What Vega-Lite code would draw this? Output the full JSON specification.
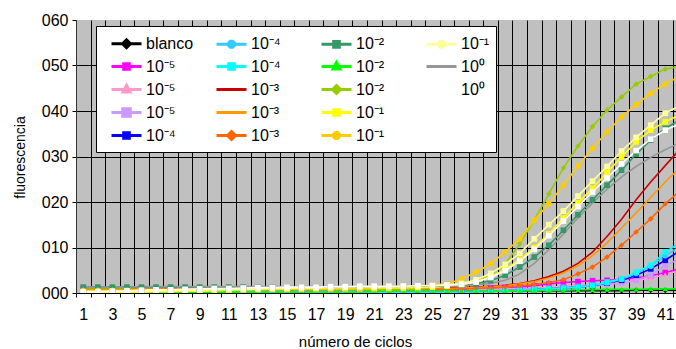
{
"$schema": "https://vega.github.io/schema/vega-lite/v6.json",
"width": 600, "height": 273,
"autosize": {"type": "none"},
"padding": {"left": 76, "top": 20, "right": 0, "bottom": 56},
"background": "white",
"config": {
  "view": {"fill": "#C0C0C0", "stroke": null},
  "font": "Liberation Sans",
  "axis": {"labelFont": "Liberation Sans", "titleFont": "Liberation Sans", "labelColor": "black", "titleColor": "black", "titleFontWeight": "normal", "domainColor": "black", "tickColor": "black", "gridColor": "black", "gridOpacity": 1, "gridWidth": 1, "labelFontSize": 16, "titleFontSize": 14},
  "legend": {"orient": "none", "legendX": 20, "legendY": 6, "columns": 4, "direction": "vertical", "gridAlign": "all", "fillColor": "white", "strokeColor": "black", "padding": 6, "symbolSize": 400, "symbolStrokeWidth": 3, "labelFont": "Liberation Sans", "labelFontSize": 16, "labelColor": "black", "labelOffset": 21, "rowPadding": 1, "columnPadding": 13, "title": null, "symbolType": "stroke"}
},
"data": {"values": [
{"c":1,"s":"bl","v":0.5},{"c":2,"s":"bl","v":0.5},{"c":3,"s":"bl","v":0.4},{"c":4,"s":"bl","v":0.4},{"c":5,"s":"bl","v":0.4},{"c":6,"s":"bl","v":0.4},{"c":7,"s":"bl","v":0.4},{"c":8,"s":"bl","v":0.4},{"c":9,"s":"bl","v":0.4},{"c":10,"s":"bl","v":0.4},{"c":11,"s":"bl","v":0.4},{"c":12,"s":"bl","v":0.4},{"c":13,"s":"bl","v":0.4},{"c":14,"s":"bl","v":0.4},{"c":15,"s":"bl","v":0.4},{"c":16,"s":"bl","v":0.4},{"c":17,"s":"bl","v":0.4},{"c":18,"s":"bl","v":0.4},{"c":19,"s":"bl","v":0.4},{"c":20,"s":"bl","v":0.4},{"c":21,"s":"bl","v":0.4},{"c":22,"s":"bl","v":0.4},{"c":23,"s":"bl","v":0.4},{"c":24,"s":"bl","v":0.4},{"c":25,"s":"bl","v":0.4},{"c":26,"s":"bl","v":0.4},{"c":27,"s":"bl","v":0.4},{"c":28,"s":"bl","v":0.4},{"c":29,"s":"bl","v":0.4},{"c":30,"s":"bl","v":0.5},{"c":31,"s":"bl","v":0.5},{"c":32,"s":"bl","v":0.5},{"c":33,"s":"bl","v":0.5},{"c":34,"s":"bl","v":0.5},{"c":35,"s":"bl","v":0.5},{"c":36,"s":"bl","v":0.5},{"c":37,"s":"bl","v":0.5},{"c":38,"s":"bl","v":0.5},{"c":39,"s":"bl","v":0.6},{"c":40,"s":"bl","v":0.6},{"c":41,"s":"bl","v":0.6},{"c":42,"s":"bl","v":0.6},
{"c":1,"s":"m5a","v":1.0},{"c":2,"s":"m5a","v":0.9},{"c":3,"s":"m5a","v":0.8},{"c":4,"s":"m5a","v":0.8},{"c":5,"s":"m5a","v":0.8},{"c":6,"s":"m5a","v":0.8},{"c":7,"s":"m5a","v":0.8},{"c":8,"s":"m5a","v":0.8},{"c":9,"s":"m5a","v":0.8},{"c":10,"s":"m5a","v":0.8},{"c":11,"s":"m5a","v":0.8},{"c":12,"s":"m5a","v":0.8},{"c":13,"s":"m5a","v":0.8},{"c":14,"s":"m5a","v":0.8},{"c":15,"s":"m5a","v":0.8},{"c":16,"s":"m5a","v":0.8},{"c":17,"s":"m5a","v":0.8},{"c":18,"s":"m5a","v":0.8},{"c":19,"s":"m5a","v":0.8},{"c":20,"s":"m5a","v":0.8},{"c":21,"s":"m5a","v":0.8},{"c":22,"s":"m5a","v":0.8},{"c":23,"s":"m5a","v":0.8},{"c":24,"s":"m5a","v":0.8},{"c":25,"s":"m5a","v":0.8},{"c":26,"s":"m5a","v":0.9},{"c":27,"s":"m5a","v":0.9},{"c":28,"s":"m5a","v":1.0},{"c":29,"s":"m5a","v":1.1},{"c":30,"s":"m5a","v":1.2},{"c":31,"s":"m5a","v":1.3},{"c":32,"s":"m5a","v":1.6},{"c":33,"s":"m5a","v":2.0},{"c":34,"s":"m5a","v":2.3},{"c":35,"s":"m5a","v":2.5},{"c":36,"s":"m5a","v":2.7},{"c":37,"s":"m5a","v":2.8},{"c":38,"s":"m5a","v":3.0},{"c":39,"s":"m5a","v":3.3},{"c":40,"s":"m5a","v":3.8},{"c":41,"s":"m5a","v":4.5},{"c":42,"s":"m5a","v":5.3},
{"c":1,"s":"m5b","v":0.7},{"c":2,"s":"m5b","v":0.6},{"c":3,"s":"m5b","v":0.6},{"c":4,"s":"m5b","v":0.6},{"c":5,"s":"m5b","v":0.6},{"c":6,"s":"m5b","v":0.6},{"c":7,"s":"m5b","v":0.6},{"c":8,"s":"m5b","v":0.6},{"c":9,"s":"m5b","v":0.6},{"c":10,"s":"m5b","v":0.6},{"c":11,"s":"m5b","v":0.6},{"c":12,"s":"m5b","v":0.6},{"c":13,"s":"m5b","v":0.6},{"c":14,"s":"m5b","v":0.6},{"c":15,"s":"m5b","v":0.6},{"c":16,"s":"m5b","v":0.6},{"c":17,"s":"m5b","v":0.6},{"c":18,"s":"m5b","v":0.6},{"c":19,"s":"m5b","v":0.6},{"c":20,"s":"m5b","v":0.6},{"c":21,"s":"m5b","v":0.6},{"c":22,"s":"m5b","v":0.6},{"c":23,"s":"m5b","v":0.6},{"c":24,"s":"m5b","v":0.6},{"c":25,"s":"m5b","v":0.6},{"c":26,"s":"m5b","v":0.7},{"c":27,"s":"m5b","v":0.7},{"c":28,"s":"m5b","v":0.8},{"c":29,"s":"m5b","v":0.8},{"c":30,"s":"m5b","v":0.9},{"c":31,"s":"m5b","v":1.0},{"c":32,"s":"m5b","v":1.1},{"c":33,"s":"m5b","v":1.3},{"c":34,"s":"m5b","v":1.4},{"c":35,"s":"m5b","v":1.6},{"c":36,"s":"m5b","v":1.8},{"c":37,"s":"m5b","v":2.0},{"c":38,"s":"m5b","v":2.3},{"c":39,"s":"m5b","v":2.7},{"c":40,"s":"m5b","v":3.3},{"c":41,"s":"m5b","v":4.0},{"c":42,"s":"m5b","v":5.0},
{"c":1,"s":"m5c","v":0.5},{"c":2,"s":"m5c","v":0.5},{"c":3,"s":"m5c","v":0.5},{"c":4,"s":"m5c","v":0.5},{"c":5,"s":"m5c","v":0.5},{"c":6,"s":"m5c","v":0.5},{"c":7,"s":"m5c","v":0.5},{"c":8,"s":"m5c","v":0.5},{"c":9,"s":"m5c","v":0.5},{"c":10,"s":"m5c","v":0.5},{"c":11,"s":"m5c","v":0.5},{"c":12,"s":"m5c","v":0.5},{"c":13,"s":"m5c","v":0.5},{"c":14,"s":"m5c","v":0.5},{"c":15,"s":"m5c","v":0.5},{"c":16,"s":"m5c","v":0.5},{"c":17,"s":"m5c","v":0.5},{"c":18,"s":"m5c","v":0.5},{"c":19,"s":"m5c","v":0.5},{"c":20,"s":"m5c","v":0.5},{"c":21,"s":"m5c","v":0.5},{"c":22,"s":"m5c","v":0.5},{"c":23,"s":"m5c","v":0.5},{"c":24,"s":"m5c","v":0.5},{"c":25,"s":"m5c","v":0.5},{"c":26,"s":"m5c","v":0.5},{"c":27,"s":"m5c","v":0.5},{"c":28,"s":"m5c","v":0.6},{"c":29,"s":"m5c","v":0.6},{"c":30,"s":"m5c","v":0.7},{"c":31,"s":"m5c","v":0.8},{"c":32,"s":"m5c","v":0.9},{"c":33,"s":"m5c","v":1.0},{"c":34,"s":"m5c","v":1.2},{"c":35,"s":"m5c","v":1.4},{"c":36,"s":"m5c","v":1.6},{"c":37,"s":"m5c","v":1.9},{"c":38,"s":"m5c","v":2.2},{"c":39,"s":"m5c","v":2.8},{"c":40,"s":"m5c","v":3.9},{"c":41,"s":"m5c","v":6.1},{"c":42,"s":"m5c","v":7.5},
{"c":1,"s":"m4a","v":0.3},{"c":2,"s":"m4a","v":0.3},{"c":3,"s":"m4a","v":0.3},{"c":4,"s":"m4a","v":0.3},{"c":5,"s":"m4a","v":0.3},{"c":6,"s":"m4a","v":0.3},{"c":7,"s":"m4a","v":0.3},{"c":8,"s":"m4a","v":0.3},{"c":9,"s":"m4a","v":0.3},{"c":10,"s":"m4a","v":0.3},{"c":11,"s":"m4a","v":0.3},{"c":12,"s":"m4a","v":0.3},{"c":13,"s":"m4a","v":0.3},{"c":14,"s":"m4a","v":0.3},{"c":15,"s":"m4a","v":0.3},{"c":16,"s":"m4a","v":0.3},{"c":17,"s":"m4a","v":0.3},{"c":18,"s":"m4a","v":0.3},{"c":19,"s":"m4a","v":0.3},{"c":20,"s":"m4a","v":0.3},{"c":21,"s":"m4a","v":0.3},{"c":22,"s":"m4a","v":0.3},{"c":23,"s":"m4a","v":0.3},{"c":24,"s":"m4a","v":0.3},{"c":25,"s":"m4a","v":0.3},{"c":26,"s":"m4a","v":0.3},{"c":27,"s":"m4a","v":0.3},{"c":28,"s":"m4a","v":0.4},{"c":29,"s":"m4a","v":0.4},{"c":30,"s":"m4a","v":0.5},{"c":31,"s":"m4a","v":0.6},{"c":32,"s":"m4a","v":0.7},{"c":33,"s":"m4a","v":0.9},{"c":34,"s":"m4a","v":1.1},{"c":35,"s":"m4a","v":1.3},{"c":36,"s":"m4a","v":1.6},{"c":37,"s":"m4a","v":2.2},{"c":38,"s":"m4a","v":2.8},{"c":39,"s":"m4a","v":3.9},{"c":40,"s":"m4a","v":5.3},{"c":41,"s":"m4a","v":7.2},{"c":42,"s":"m4a","v":9.3},
{"c":1,"s":"m4b","v":0.2},{"c":2,"s":"m4b","v":0.2},{"c":3,"s":"m4b","v":0.2},{"c":4,"s":"m4b","v":0.2},{"c":5,"s":"m4b","v":0.2},{"c":6,"s":"m4b","v":0.2},{"c":7,"s":"m4b","v":0.2},{"c":8,"s":"m4b","v":0.2},{"c":9,"s":"m4b","v":0.2},{"c":10,"s":"m4b","v":0.2},{"c":11,"s":"m4b","v":0.2},{"c":12,"s":"m4b","v":0.2},{"c":13,"s":"m4b","v":0.2},{"c":14,"s":"m4b","v":0.2},{"c":15,"s":"m4b","v":0.2},{"c":16,"s":"m4b","v":0.2},{"c":17,"s":"m4b","v":0.2},{"c":18,"s":"m4b","v":0.2},{"c":19,"s":"m4b","v":0.2},{"c":20,"s":"m4b","v":0.2},{"c":21,"s":"m4b","v":0.2},{"c":22,"s":"m4b","v":0.2},{"c":23,"s":"m4b","v":0.2},{"c":24,"s":"m4b","v":0.2},{"c":25,"s":"m4b","v":0.2},{"c":26,"s":"m4b","v":0.2},{"c":27,"s":"m4b","v":0.2},{"c":28,"s":"m4b","v":0.3},{"c":29,"s":"m4b","v":0.4},{"c":30,"s":"m4b","v":0.5},{"c":31,"s":"m4b","v":0.6},{"c":32,"s":"m4b","v":0.7},{"c":33,"s":"m4b","v":0.9},{"c":34,"s":"m4b","v":1.1},{"c":35,"s":"m4b","v":1.3},{"c":36,"s":"m4b","v":1.6},{"c":37,"s":"m4b","v":2.2},{"c":38,"s":"m4b","v":3.0},{"c":39,"s":"m4b","v":4.3},{"c":40,"s":"m4b","v":5.9},{"c":41,"s":"m4b","v":8.2},{"c":42,"s":"m4b","v":10.2},
{"c":1,"s":"m4c","v":0.2},{"c":2,"s":"m4c","v":0.2},{"c":3,"s":"m4c","v":0.2},{"c":4,"s":"m4c","v":0.2},{"c":5,"s":"m4c","v":0.2},{"c":6,"s":"m4c","v":0.2},{"c":7,"s":"m4c","v":0.2},{"c":8,"s":"m4c","v":0.2},{"c":9,"s":"m4c","v":0.2},{"c":10,"s":"m4c","v":0.2},{"c":11,"s":"m4c","v":0.2},{"c":12,"s":"m4c","v":0.2},{"c":13,"s":"m4c","v":0.2},{"c":14,"s":"m4c","v":0.2},{"c":15,"s":"m4c","v":0.2},{"c":16,"s":"m4c","v":0.2},{"c":17,"s":"m4c","v":0.2},{"c":18,"s":"m4c","v":0.2},{"c":19,"s":"m4c","v":0.2},{"c":20,"s":"m4c","v":0.2},{"c":21,"s":"m4c","v":0.2},{"c":22,"s":"m4c","v":0.2},{"c":23,"s":"m4c","v":0.2},{"c":24,"s":"m4c","v":0.2},{"c":25,"s":"m4c","v":0.2},{"c":26,"s":"m4c","v":0.2},{"c":27,"s":"m4c","v":0.2},{"c":28,"s":"m4c","v":0.3},{"c":29,"s":"m4c","v":0.4},{"c":30,"s":"m4c","v":0.5},{"c":31,"s":"m4c","v":0.6},{"c":32,"s":"m4c","v":0.7},{"c":33,"s":"m4c","v":0.9},{"c":34,"s":"m4c","v":1.1},{"c":35,"s":"m4c","v":1.3},{"c":36,"s":"m4c","v":1.7},{"c":37,"s":"m4c","v":2.4},{"c":38,"s":"m4c","v":3.1},{"c":39,"s":"m4c","v":4.6},{"c":40,"s":"m4c","v":6.1},{"c":41,"s":"m4c","v":9.0},{"c":42,"s":"m4c","v":11.0},
{"c":1,"s":"m3a","v":0.9},{"c":2,"s":"m3a","v":1.0},{"c":3,"s":"m3a","v":1.1},{"c":4,"s":"m3a","v":1.3},{"c":5,"s":"m3a","v":1.3},{"c":6,"s":"m3a","v":1.1},{"c":7,"s":"m3a","v":1.0},{"c":8,"s":"m3a","v":1.0},{"c":9,"s":"m3a","v":1.0},{"c":10,"s":"m3a","v":1.0},{"c":11,"s":"m3a","v":1.0},{"c":12,"s":"m3a","v":1.0},{"c":13,"s":"m3a","v":1.0},{"c":14,"s":"m3a","v":1.0},{"c":15,"s":"m3a","v":1.0},{"c":16,"s":"m3a","v":1.0},{"c":17,"s":"m3a","v":1.0},{"c":18,"s":"m3a","v":1.0},{"c":19,"s":"m3a","v":1.0},{"c":20,"s":"m3a","v":1.0},{"c":21,"s":"m3a","v":1.0},{"c":22,"s":"m3a","v":1.0},{"c":23,"s":"m3a","v":1.0},{"c":24,"s":"m3a","v":1.1},{"c":25,"s":"m3a","v":1.1},{"c":26,"s":"m3a","v":1.1},{"c":27,"s":"m3a","v":1.2},{"c":28,"s":"m3a","v":1.3},{"c":29,"s":"m3a","v":1.5},{"c":30,"s":"m3a","v":1.7},{"c":31,"s":"m3a","v":2.1},{"c":32,"s":"m3a","v":2.7},{"c":33,"s":"m3a","v":3.6},{"c":34,"s":"m3a","v":4.8},{"c":35,"s":"m3a","v":6.5},{"c":36,"s":"m3a","v":9.0},{"c":37,"s":"m3a","v":12.4},{"c":38,"s":"m3a","v":16.2},{"c":39,"s":"m3a","v":20.5},{"c":40,"s":"m3a","v":24.4},{"c":41,"s":"m3a","v":28.0},{"c":42,"s":"m3a","v":31.6},
{"c":1,"s":"m3b","v":0.9},{"c":2,"s":"m3b","v":0.9},{"c":3,"s":"m3b","v":0.9},{"c":4,"s":"m3b","v":0.9},{"c":5,"s":"m3b","v":0.9},{"c":6,"s":"m3b","v":0.9},{"c":7,"s":"m3b","v":0.9},{"c":8,"s":"m3b","v":0.9},{"c":9,"s":"m3b","v":0.9},{"c":10,"s":"m3b","v":0.9},{"c":11,"s":"m3b","v":0.9},{"c":12,"s":"m3b","v":0.9},{"c":13,"s":"m3b","v":0.9},{"c":14,"s":"m3b","v":0.9},{"c":15,"s":"m3b","v":0.9},{"c":16,"s":"m3b","v":0.9},{"c":17,"s":"m3b","v":0.9},{"c":18,"s":"m3b","v":0.9},{"c":19,"s":"m3b","v":0.9},{"c":20,"s":"m3b","v":0.9},{"c":21,"s":"m3b","v":0.9},{"c":22,"s":"m3b","v":0.9},{"c":23,"s":"m3b","v":0.9},{"c":24,"s":"m3b","v":0.9},{"c":25,"s":"m3b","v":0.9},{"c":26,"s":"m3b","v":1.0},{"c":27,"s":"m3b","v":1.1},{"c":28,"s":"m3b","v":1.2},{"c":29,"s":"m3b","v":1.4},{"c":30,"s":"m3b","v":1.6},{"c":31,"s":"m3b","v":2.0},{"c":32,"s":"m3b","v":2.5},{"c":33,"s":"m3b","v":3.3},{"c":34,"s":"m3b","v":4.4},{"c":35,"s":"m3b","v":6.0},{"c":36,"s":"m3b","v":8.2},{"c":37,"s":"m3b","v":11.0},{"c":38,"s":"m3b","v":14.3},{"c":39,"s":"m3b","v":17.6},{"c":40,"s":"m3b","v":21.0},{"c":41,"s":"m3b","v":24.4},{"c":42,"s":"m3b","v":27.5},
{"c":1,"s":"m3c","v":0.8},{"c":2,"s":"m3c","v":0.8},{"c":3,"s":"m3c","v":0.8},{"c":4,"s":"m3c","v":0.8},{"c":5,"s":"m3c","v":0.8},{"c":6,"s":"m3c","v":0.8},{"c":7,"s":"m3c","v":0.8},{"c":8,"s":"m3c","v":0.8},{"c":9,"s":"m3c","v":0.8},{"c":10,"s":"m3c","v":0.8},{"c":11,"s":"m3c","v":0.8},{"c":12,"s":"m3c","v":0.8},{"c":13,"s":"m3c","v":0.8},{"c":14,"s":"m3c","v":0.8},{"c":15,"s":"m3c","v":0.8},{"c":16,"s":"m3c","v":0.8},{"c":17,"s":"m3c","v":0.8},{"c":18,"s":"m3c","v":0.8},{"c":19,"s":"m3c","v":0.8},{"c":20,"s":"m3c","v":0.8},{"c":21,"s":"m3c","v":0.8},{"c":22,"s":"m3c","v":0.8},{"c":23,"s":"m3c","v":0.8},{"c":24,"s":"m3c","v":0.8},{"c":25,"s":"m3c","v":0.8},{"c":26,"s":"m3c","v":0.8},{"c":27,"s":"m3c","v":0.8},{"c":28,"s":"m3c","v":1.0},{"c":29,"s":"m3c","v":1.1},{"c":30,"s":"m3c","v":1.3},{"c":31,"s":"m3c","v":1.6},{"c":32,"s":"m3c","v":1.9},{"c":33,"s":"m3c","v":2.3},{"c":34,"s":"m3c","v":2.9},{"c":35,"s":"m3c","v":4.2},{"c":36,"s":"m3c","v":5.7},{"c":37,"s":"m3c","v":7.9},{"c":38,"s":"m3c","v":10.5},{"c":39,"s":"m3c","v":13.4},{"c":40,"s":"m3c","v":16.3},{"c":41,"s":"m3c","v":19.6},{"c":42,"s":"m3c","v":22.4},
{"c":1,"s":"m2a","v":1.3},{"c":2,"s":"m2a","v":1.3},{"c":3,"s":"m2a","v":1.3},{"c":4,"s":"m2a","v":1.3},{"c":5,"s":"m2a","v":1.3},{"c":6,"s":"m2a","v":1.3},{"c":7,"s":"m2a","v":1.3},{"c":8,"s":"m2a","v":1.3},{"c":9,"s":"m2a","v":1.3},{"c":10,"s":"m2a","v":1.3},{"c":11,"s":"m2a","v":1.3},{"c":12,"s":"m2a","v":1.3},{"c":13,"s":"m2a","v":1.3},{"c":14,"s":"m2a","v":1.3},{"c":15,"s":"m2a","v":1.3},{"c":16,"s":"m2a","v":1.3},{"c":17,"s":"m2a","v":1.3},{"c":18,"s":"m2a","v":1.3},{"c":19,"s":"m2a","v":1.3},{"c":20,"s":"m2a","v":1.3},{"c":21,"s":"m2a","v":1.3},{"c":22,"s":"m2a","v":1.3},{"c":23,"s":"m2a","v":1.3},{"c":24,"s":"m2a","v":1.3},{"c":25,"s":"m2a","v":1.4},{"c":26,"s":"m2a","v":1.5},{"c":27,"s":"m2a","v":1.7},{"c":28,"s":"m2a","v":2.0},{"c":29,"s":"m2a","v":2.7},{"c":30,"s":"m2a","v":3.9},{"c":31,"s":"m2a","v":5.7},{"c":32,"s":"m2a","v":7.9},{"c":33,"s":"m2a","v":10.5},{"c":34,"s":"m2a","v":13.8},{"c":35,"s":"m2a","v":17.2},{"c":36,"s":"m2a","v":20.5},{"c":37,"s":"m2a","v":23.7},{"c":38,"s":"m2a","v":27.0},{"c":39,"s":"m2a","v":30.5},{"c":40,"s":"m2a","v":33.6},{"c":41,"s":"m2a","v":36.2},{"c":42,"s":"m2a","v":38.0},
{"c":1,"s":"m2b","v":0.2},{"c":2,"s":"m2b","v":0.2},{"c":3,"s":"m2b","v":0.2},{"c":4,"s":"m2b","v":0.2},{"c":5,"s":"m2b","v":0.2},{"c":6,"s":"m2b","v":0.2},{"c":7,"s":"m2b","v":0.2},{"c":8,"s":"m2b","v":0.2},{"c":9,"s":"m2b","v":0.2},{"c":10,"s":"m2b","v":0.2},{"c":11,"s":"m2b","v":0.2},{"c":12,"s":"m2b","v":0.2},{"c":13,"s":"m2b","v":0.2},{"c":14,"s":"m2b","v":0.2},{"c":15,"s":"m2b","v":0.2},{"c":16,"s":"m2b","v":0.2},{"c":17,"s":"m2b","v":0.2},{"c":18,"s":"m2b","v":0.2},{"c":19,"s":"m2b","v":0.2},{"c":20,"s":"m2b","v":0.2},{"c":21,"s":"m2b","v":0.4},{"c":22,"s":"m2b","v":0.4},{"c":23,"s":"m2b","v":0.4},{"c":24,"s":"m2b","v":0.4},{"c":25,"s":"m2b","v":0.4},{"c":26,"s":"m2b","v":0.4},{"c":27,"s":"m2b","v":0.4},{"c":28,"s":"m2b","v":0.4},{"c":29,"s":"m2b","v":0.4},{"c":30,"s":"m2b","v":0.4},{"c":31,"s":"m2b","v":0.5},{"c":32,"s":"m2b","v":0.5},{"c":33,"s":"m2b","v":0.6},{"c":34,"s":"m2b","v":0.6},{"c":35,"s":"m2b","v":0.7},{"c":36,"s":"m2b","v":0.7},{"c":37,"s":"m2b","v":0.8},{"c":38,"s":"m2b","v":0.8},{"c":39,"s":"m2b","v":0.8},{"c":40,"s":"m2b","v":0.9},{"c":41,"s":"m2b","v":0.9},{"c":42,"s":"m2b","v":0.9},
{"c":1,"s":"m2c","v":0.7},{"c":2,"s":"m2c","v":0.7},{"c":3,"s":"m2c","v":0.7},{"c":4,"s":"m2c","v":0.7},{"c":5,"s":"m2c","v":0.7},{"c":6,"s":"m2c","v":0.7},{"c":7,"s":"m2c","v":0.7},{"c":8,"s":"m2c","v":0.7},{"c":9,"s":"m2c","v":0.7},{"c":10,"s":"m2c","v":0.7},{"c":11,"s":"m2c","v":0.7},{"c":12,"s":"m2c","v":0.7},{"c":13,"s":"m2c","v":0.7},{"c":14,"s":"m2c","v":0.7},{"c":15,"s":"m2c","v":0.7},{"c":16,"s":"m2c","v":0.7},{"c":17,"s":"m2c","v":0.7},{"c":18,"s":"m2c","v":0.7},{"c":19,"s":"m2c","v":0.7},{"c":20,"s":"m2c","v":0.7},{"c":21,"s":"m2c","v":0.7},{"c":22,"s":"m2c","v":0.7},{"c":23,"s":"m2c","v":0.8},{"c":24,"s":"m2c","v":0.9},{"c":25,"s":"m2c","v":1.1},{"c":26,"s":"m2c","v":1.5},{"c":27,"s":"m2c","v":2.0},{"c":28,"s":"m2c","v":2.8},{"c":29,"s":"m2c","v":4.0},{"c":30,"s":"m2c","v":6.4},{"c":31,"s":"m2c","v":10.8},{"c":32,"s":"m2c","v":16.0},{"c":33,"s":"m2c","v":21.8},{"c":34,"s":"m2c","v":27.5},{"c":35,"s":"m2c","v":32.3},{"c":36,"s":"m2c","v":36.6},{"c":37,"s":"m2c","v":40.2},{"c":38,"s":"m2c","v":43.1},{"c":39,"s":"m2c","v":45.9},{"c":40,"s":"m2c","v":47.6},{"c":41,"s":"m2c","v":49.2},{"c":42,"s":"m2c","v":49.8},
{"c":1,"s":"m1a","v":0.1},{"c":2,"s":"m1a","v":0.1},{"c":3,"s":"m1a","v":0.1},{"c":4,"s":"m1a","v":0.2},{"c":5,"s":"m1a","v":0.2},{"c":6,"s":"m1a","v":0.3},{"c":7,"s":"m1a","v":0.3},{"c":8,"s":"m1a","v":0.4},{"c":9,"s":"m1a","v":0.4},{"c":10,"s":"m1a","v":0.5},{"c":11,"s":"m1a","v":0.6},{"c":12,"s":"m1a","v":0.7},{"c":13,"s":"m1a","v":0.8},{"c":14,"s":"m1a","v":0.9},{"c":15,"s":"m1a","v":0.9},{"c":16,"s":"m1a","v":0.9},{"c":17,"s":"m1a","v":1.0},{"c":18,"s":"m1a","v":1.0},{"c":19,"s":"m1a","v":1.0},{"c":20,"s":"m1a","v":1.0},{"c":21,"s":"m1a","v":1.0},{"c":22,"s":"m1a","v":1.1},{"c":23,"s":"m1a","v":1.1},{"c":24,"s":"m1a","v":1.2},{"c":25,"s":"m1a","v":1.3},{"c":26,"s":"m1a","v":1.5},{"c":27,"s":"m1a","v":1.9},{"c":28,"s":"m1a","v":2.5},{"c":29,"s":"m1a","v":3.5},{"c":30,"s":"m1a","v":5.2},{"c":31,"s":"m1a","v":7.3},{"c":32,"s":"m1a","v":10.0},{"c":33,"s":"m1a","v":13.0},{"c":34,"s":"m1a","v":16.5},{"c":35,"s":"m1a","v":19.8},{"c":36,"s":"m1a","v":23.0},{"c":37,"s":"m1a","v":26.5},{"c":38,"s":"m1a","v":29.9},{"c":39,"s":"m1a","v":33.2},{"c":40,"s":"m1a","v":35.8},{"c":41,"s":"m1a","v":37.6},{"c":42,"s":"m1a","v":39.2},
{"c":1,"s":"m1b","v":0.5},{"c":2,"s":"m1b","v":0.5},{"c":3,"s":"m1b","v":0.5},{"c":4,"s":"m1b","v":0.5},{"c":5,"s":"m1b","v":0.6},{"c":6,"s":"m1b","v":0.6},{"c":7,"s":"m1b","v":0.6},{"c":8,"s":"m1b","v":0.6},{"c":9,"s":"m1b","v":0.7},{"c":10,"s":"m1b","v":0.7},{"c":11,"s":"m1b","v":0.7},{"c":12,"s":"m1b","v":0.7},{"c":13,"s":"m1b","v":0.8},{"c":14,"s":"m1b","v":0.8},{"c":15,"s":"m1b","v":0.8},{"c":16,"s":"m1b","v":0.9},{"c":17,"s":"m1b","v":0.9},{"c":18,"s":"m1b","v":0.9},{"c":19,"s":"m1b","v":1.0},{"c":20,"s":"m1b","v":1.0},{"c":21,"s":"m1b","v":1.1},{"c":22,"s":"m1b","v":1.2},{"c":23,"s":"m1b","v":1.3},{"c":24,"s":"m1b","v":1.5},{"c":25,"s":"m1b","v":1.8},{"c":26,"s":"m1b","v":2.0},{"c":27,"s":"m1b","v":3.1},{"c":28,"s":"m1b","v":4.6},{"c":29,"s":"m1b","v":6.4},{"c":30,"s":"m1b","v":9.0},{"c":31,"s":"m1b","v":11.9},{"c":32,"s":"m1b","v":16.0},{"c":33,"s":"m1b","v":19.6},{"c":34,"s":"m1b","v":23.7},{"c":35,"s":"m1b","v":27.9},{"c":36,"s":"m1b","v":31.8},{"c":37,"s":"m1b","v":35.4},{"c":38,"s":"m1b","v":38.7},{"c":39,"s":"m1b","v":41.4},{"c":40,"s":"m1b","v":43.9},{"c":41,"s":"m1b","v":45.9},{"c":42,"s":"m1b","v":47.6},
{"c":1,"s":"m1c","v":0.3},{"c":2,"s":"m1c","v":0.3},{"c":3,"s":"m1c","v":0.3},{"c":4,"s":"m1c","v":0.4},{"c":5,"s":"m1c","v":0.4},{"c":6,"s":"m1c","v":0.5},{"c":7,"s":"m1c","v":0.5},{"c":8,"s":"m1c","v":0.6},{"c":9,"s":"m1c","v":0.6},{"c":10,"s":"m1c","v":0.7},{"c":11,"s":"m1c","v":0.8},{"c":12,"s":"m1c","v":0.8},{"c":13,"s":"m1c","v":0.9},{"c":14,"s":"m1c","v":1.0},{"c":15,"s":"m1c","v":1.0},{"c":16,"s":"m1c","v":1.1},{"c":17,"s":"m1c","v":1.1},{"c":18,"s":"m1c","v":1.2},{"c":19,"s":"m1c","v":1.2},{"c":20,"s":"m1c","v":1.3},{"c":21,"s":"m1c","v":1.3},{"c":22,"s":"m1c","v":1.4},{"c":23,"s":"m1c","v":1.4},{"c":24,"s":"m1c","v":1.5},{"c":25,"s":"m1c","v":1.6},{"c":26,"s":"m1c","v":1.8},{"c":27,"s":"m1c","v":2.1},{"c":28,"s":"m1c","v":2.9},{"c":29,"s":"m1c","v":4.3},{"c":30,"s":"m1c","v":6.3},{"c":31,"s":"m1c","v":8.7},{"c":32,"s":"m1c","v":11.9},{"c":33,"s":"m1c","v":15.0},{"c":34,"s":"m1c","v":18.0},{"c":35,"s":"m1c","v":21.3},{"c":36,"s":"m1c","v":24.6},{"c":37,"s":"m1c","v":27.8},{"c":38,"s":"m1c","v":31.2},{"c":39,"s":"m1c","v":34.2},{"c":40,"s":"m1c","v":36.9},{"c":41,"s":"m1c","v":39.5},{"c":42,"s":"m1c","v":41.2},
{"c":1,"s":"p0a","v":1.3},{"c":2,"s":"p0a","v":1.3},{"c":3,"s":"p0a","v":1.3},{"c":4,"s":"p0a","v":1.3},{"c":5,"s":"p0a","v":1.4},{"c":6,"s":"p0a","v":1.4},{"c":7,"s":"p0a","v":1.4},{"c":8,"s":"p0a","v":1.4},{"c":9,"s":"p0a","v":1.4},{"c":10,"s":"p0a","v":1.4},{"c":11,"s":"p0a","v":1.4},{"c":12,"s":"p0a","v":1.4},{"c":13,"s":"p0a","v":1.4},{"c":14,"s":"p0a","v":1.4},{"c":15,"s":"p0a","v":1.4},{"c":16,"s":"p0a","v":1.4},{"c":17,"s":"p0a","v":1.4},{"c":18,"s":"p0a","v":1.4},{"c":19,"s":"p0a","v":1.4},{"c":20,"s":"p0a","v":1.4},{"c":21,"s":"p0a","v":1.5},{"c":22,"s":"p0a","v":1.5},{"c":23,"s":"p0a","v":1.5},{"c":24,"s":"p0a","v":1.5},{"c":25,"s":"p0a","v":1.5},{"c":26,"s":"p0a","v":1.5},{"c":27,"s":"p0a","v":1.6},{"c":28,"s":"p0a","v":1.8},{"c":29,"s":"p0a","v":2.1},{"c":30,"s":"p0a","v":2.8},{"c":31,"s":"p0a","v":4.2},{"c":32,"s":"p0a","v":6.5},{"c":33,"s":"p0a","v":9.5},{"c":34,"s":"p0a","v":13.0},{"c":35,"s":"p0a","v":16.5},{"c":36,"s":"p0a","v":19.8},{"c":37,"s":"p0a","v":22.8},{"c":38,"s":"p0a","v":25.5},{"c":39,"s":"p0a","v":27.8},{"c":40,"s":"p0a","v":29.8},{"c":41,"s":"p0a","v":31.5},{"c":42,"s":"p0a","v":33.0},
{"c":1,"s":"p0b","v":0.2},{"c":2,"s":"p0b","v":0.3},{"c":3,"s":"p0b","v":0.4},{"c":4,"s":"p0b","v":0.5},{"c":5,"s":"p0b","v":0.6},{"c":6,"s":"p0b","v":0.7},{"c":7,"s":"p0b","v":0.7},{"c":8,"s":"p0b","v":0.8},{"c":9,"s":"p0b","v":0.9},{"c":10,"s":"p0b","v":1.0},{"c":11,"s":"p0b","v":1.0},{"c":12,"s":"p0b","v":1.1},{"c":13,"s":"p0b","v":1.2},{"c":14,"s":"p0b","v":1.2},{"c":15,"s":"p0b","v":1.3},{"c":16,"s":"p0b","v":1.3},{"c":17,"s":"p0b","v":1.3},{"c":18,"s":"p0b","v":1.4},{"c":19,"s":"p0b","v":1.4},{"c":20,"s":"p0b","v":1.5},{"c":21,"s":"p0b","v":1.5},{"c":22,"s":"p0b","v":1.5},{"c":23,"s":"p0b","v":1.5},{"c":24,"s":"p0b","v":1.6},{"c":25,"s":"p0b","v":1.6},{"c":26,"s":"p0b","v":1.7},{"c":27,"s":"p0b","v":1.9},{"c":28,"s":"p0b","v":2.4},{"c":29,"s":"p0b","v":3.4},{"c":30,"s":"p0b","v":4.9},{"c":31,"s":"p0b","v":7.0},{"c":32,"s":"p0b","v":9.6},{"c":33,"s":"p0b","v":12.6},{"c":34,"s":"p0b","v":15.8},{"c":35,"s":"p0b","v":19.0},{"c":36,"s":"p0b","v":22.2},{"c":37,"s":"p0b","v":25.3},{"c":38,"s":"p0b","v":28.4},{"c":39,"s":"p0b","v":31.3},{"c":40,"s":"p0b","v":33.8},{"c":41,"s":"p0b","v":35.8},{"c":42,"s":"p0b","v":37.2}
]},
"layer": [
  {
    "mark": {"type": "line", "strokeWidth": 1.6, "clip": true},
    "encoding": {
      "x": {"field": "c", "type": "quantitative", "scale": {"domain": [0.5, 41.74], "nice": false, "zero": false},
        "axis": {"title": "número de ciclos", "values": [0.5,1.5,2.5,3.5,4.5,5.5,6.5,7.5,8.5,9.5,10.5,11.5,12.5,13.5,14.5,15.5,16.5,17.5,18.5,19.5,20.5,21.5,22.5,23.5,24.5,25.5,26.5,27.5,28.5,29.5,30.5,31.5,32.5,33.5,34.5,35.5,36.5,37.5,38.5,39.5,40.5,41.5], "tickCount": 100,
          "labelExpr": "(datum.value+0.5)%2==1 ? format(datum.value+0.5,'d') : ''", "labelOffset": 7.27, "labelOverlap": false, "labelFlush": false, "labelBound": false, "tickSize": 4, "labelPadding": 9, "grid": true, "titleX": 279, "titleY": 48, "titleBaseline": "middle", "titleFontSize": 15}},
      "y": {"field": "v", "type": "quantitative", "scale": {"domain": [0, 60], "nice": false, "zero": true},
        "axis": {"title": "fluorescencia", "values": [0,10,20,30,40,50,60], "tickCount": 20, "format": "03d", "tickSize": 4, "labelPadding": 4, "grid": true, "gridColor": {"condition": {"test": "datum.value==60", "value": "transparent"}, "value": "black"}, "domainColor": "#333333", "titleX": -56, "titleY": 137, "titleBaseline": "middle", "titleAlign": "center", "titleAngle": -90}},
      "color": {"field": "s", "type": "nominal",
        "scale": {"domain": ["bl","m5a","m5b","m5c","m4a","m4b","m4c","m3a","m3b","m3c","m2a","m2b","m2c","m1a","m1b","m1c","p0a","p0b","z1","z2"],
                  "range": ["#000000","#FF00FF","#FF99CC","#CC99FF","#0000FF","#33CCFF","#00FFFF","#CC0000","#FF9900","#FF6600","#339966","#00FF00","#99CC00","#FFFF00","#FFCC00","#FFFF99","#969696","#FFFFFF","#FFFFFF","#FFFFFF"]},
        "legend": {
          "labelExpr": "datum.label=='bl' ? 'blanco' : substring(datum.label,0,1)=='z' ? '' : substring(datum.label,0,1)=='p' ? '10⁰' : '10⁻' + ['','¹','²','³','⁴','⁵'][toNumber(substring(datum.label,1,2))]",
          "encode": {"symbols": {"update": {
            "shape": {"signal": "'M-0.2,0H2.8' + (indexof(['bl','m3c','m2c'],datum.value)>=0 ? 'M0.9,0L1.3,-0.4L1.7,0L1.3,0.4Z' : indexof(['m5b','m2b'],datum.value)>=0 ? 'M1.3,-0.4L1.65,0.25H0.95Z' : indexof(['m4b','m1b','m1c'],datum.value)>=0 ? 'M1.0,-0.12L1.18,-0.3H1.42L1.6,-0.12V0.12L1.42,0.3H1.18L1.0,0.12Z' : datum.value=='m5c' ? 'M0.92,-0.38H1.68V0.38H0.92Z' : indexof(['m5a','m4a','m4c','m2a','m1a','p0b'],datum.value)>=0 ? 'M1.02,-0.28H1.58V0.28H1.02Z' : '')"},
            "fill": {"scale": "color", "field": "value"},
            "stroke": {"scale": "color", "field": "value"},
            "strokeWidth": {"value": 3},
            "opacity": {"value": 1}
          }}}
        }}
    }
  },
  {
    "transform": [{"filter": {"not": {"field": "s", "oneOf": ["m3a", "m3b", "p0a"]}}}],
    "mark": {"type": "point", "filled": true, "size": 32, "opacity": 1, "clip": true},
    "encoding": {
      "x": {"field": "c", "type": "quantitative"},
      "y": {"field": "v", "type": "quantitative"},
      "color": {"field": "s", "type": "nominal"},
      "shape": {"field": "s", "type": "nominal",
        "scale": {"domain": ["bl","m5a","m5b","m5c","m4a","m4b","m4c","m3c","m2a","m2b","m2c","m1a","m1b","m1c","p0b"],
                  "range": ["diamond","square","triangle-up","square","square","circle","square","diamond","square","triangle-up","diamond","square","circle","square","square"]},
        "legend": null}
    }
  }
]
}
